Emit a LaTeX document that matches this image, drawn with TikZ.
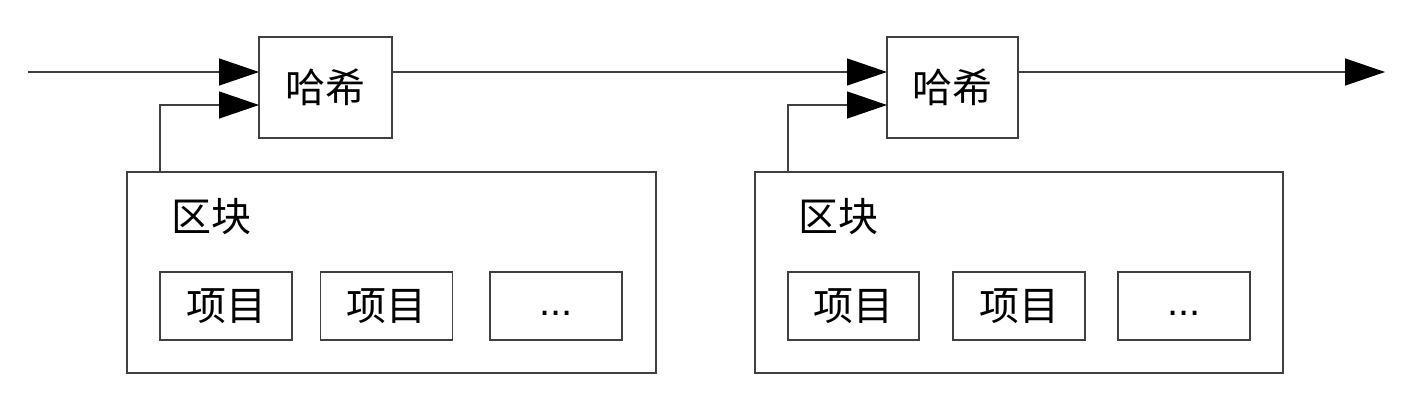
\documentclass[tikz,border=0pt]{standalone}
\usepackage{fontspec}
\setmainfont{Noto Sans CJK SC}
\newfontfamily\latinfont{Liberation Sans}
\usetikzlibrary{arrows.meta}
\begin{document}
\begin{tikzpicture}[x=1pt,y=-1pt,
  box/.style={draw=black!75,line width=1.3pt,inner sep=0pt,outer sep=0pt,font=\fontsize{40}{48}\selectfont},
  arr/.style={draw=black!75,line width=1.3pt,-{Triangle[length=40pt,width=27pt,fill=black,color=black]}},
  conn/.style={draw=black!75,line width=1.3pt}]
\useasboundingbox (0,0) rectangle (1424,418);
% hash boxes
\node[box,minimum width=133pt,minimum height=101pt] (hash1) at (325.5,87.5) {哈希};
\node[box,minimum width=131pt,minimum height=101pt] (hash2) at (952.5,87.5) {哈希};
% blocks
\node[box,minimum width=529pt,minimum height=201pt] (block1) at (391.5,272.5) {};
\node[box,minimum width=528pt,minimum height=201pt] (block2) at (1019,272.5) {};
\node[font=\fontsize{40}{48}\selectfont,anchor=west,inner sep=0pt] (lab1) at (171,217) {区块};
\node[font=\fontsize{40}{48}\selectfont,anchor=west,inner sep=0pt] (lab2) at (798,217) {区块};
% items
\node[box,minimum width=132pt,minimum height=68pt] (i11) at (226,306) {项目};
\node[box,minimum width=132pt,minimum height=68pt] (i12) at (386.5,306) {项目};
\node[box,minimum width=132pt,minimum height=68pt] (i13) at (556,306) {\latinfont\strut...};
\node[box,minimum width=131pt,minimum height=68pt] (i21) at (853.5,306) {项目};
\node[box,minimum width=132pt,minimum height=68pt] (i22) at (1019,306) {项目};
\node[box,minimum width=132pt,minimum height=68pt] (i23) at (1184,306) {\latinfont\strut...};
% connectors
\coordinate (start) at (28,72);
\coordinate (endp) at (1385,72);
\coordinate (in1) at (160,105);
\coordinate (in2) at (788,105);
\draw[arr] (start) -- (start -| hash1.west);
\draw[arr] (hash1.east |- start) -- (hash2.west |- start);
\draw[arr] (hash2.east |- endp) -- (endp);
\draw[arr] (in1 |- block1.north) -- (in1) -- (in1 -| hash1.west);
\draw[arr] (in2 |- block2.north) -- (in2) -- (in2 -| hash2.west);
\end{tikzpicture}
\end{document}
